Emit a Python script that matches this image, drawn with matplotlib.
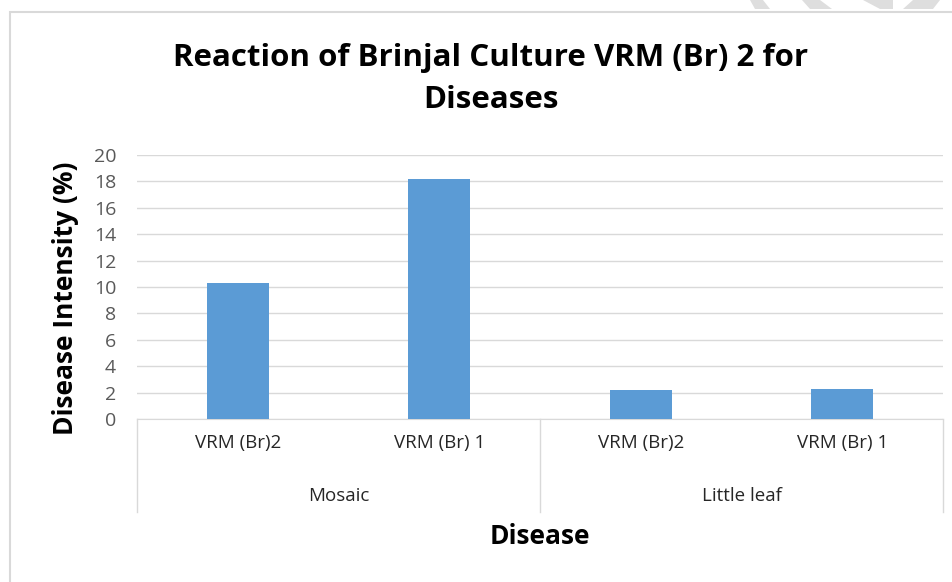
import matplotlib
matplotlib.use('Agg')
import matplotlib.pyplot as plt
import matplotlib.transforms as mtransforms
from matplotlib.patches import Polygon, Rectangle

plt.rcParams['font.family'] = ['Open Sans', 'DejaVu Sans']

# data
varieties = ['VRM (Br)2', 'VRM (Br) 1', 'VRM (Br)2', 'VRM (Br) 1']
diseases = ['Mosaic', 'Little leaf']
intensity = [10.3, 18.2, 2.2, 2.3]

W, H = 953, 582
fig = plt.figure(figsize=(W / 100, H / 100), dpi=100)

# outer chart frame
fig.patches.append(Rectangle((10 / W, -0.1), 1.2, (H - 12) / H + 0.1, transform=fig.transFigure,
                             fill=False, edgecolor='#D9D9D9', linewidth=1.5))
# faint watermark stripes at the top right (top x0, x1, bottom x0, x1)
stripes = [(750, 763, 755, 770), (802, 820, 810, 832), (863, 893, 880, 893), (913, 940, 903, 933)]
for a, b, c, d in stripes:
    fig.patches.append(Polygon([(a / W, 1), (b / W, 1), (d / W, (H - 9) / H), (c / W, (H - 9) / H)],
                               transform=fig.transFigure, facecolor='#DEDEDE', edgecolor='none'))

ax = fig.add_axes([137 / W, (H - 419) / H, 806 / W, 264 / H])
x = list(range(len(intensity)))
ax.bar(x, intensity, width=0.31, color='#5B9BD5', zorder=3)

ax.set_xlim(-0.5, len(intensity) - 0.5)
ax.set_ylim(0, 20)
ax.set_yticks(range(0, 21, 2))
ax.grid(axis='y', color='#D9D9D9', linewidth=1, zorder=0)
for s in ['top', 'right', 'left']:
    ax.spines[s].set_visible(False)
ax.spines['bottom'].set_color('#D9D9D9')
ax.tick_params(axis='y', length=0, labelsize=14, labelcolor='#595959', pad=15)
ax.tick_params(axis='x', length=0)
ax.set_xticks(x)
ax.set_xticklabels(varieties, fontsize=13.5, color='#262626')
ax.tick_params(axis='x', pad=11)

# group labels and category box lines
trans = mtransforms.blended_transform_factory(ax.transData, ax.transAxes)
for xv in [-0.5, 1.5, 3.5]:
    ax.plot([xv, xv], [0, -93 / 264], transform=trans, color='#D9D9D9', linewidth=1, clip_on=False)
for i, d in enumerate(diseases):
    ax.text(2 * i + 0.5, -77 / 264, d, transform=trans, ha='center', va='center',
            fontsize=13.5, color='#262626')

ax.set_ylabel('Disease Intensity (%)', fontsize=19, fontweight='bold')
ax.yaxis.set_label_coords((79 - 137) / 806, (419 - 298) / 264)
fig.text(540 / W, 1 - 536 / H, 'Disease', ha='center', va='center',
         fontsize=19, fontweight='bold')
fig.text(491 / W, 1 - 79 / H, 'Reaction of Brinjal Culture VRM (Br) 2 for\nDiseases',
         ha='center', va='center', fontsize=22.5, fontweight='bold', linespacing=1.5)

fig.savefig('out.png', dpi=100)
